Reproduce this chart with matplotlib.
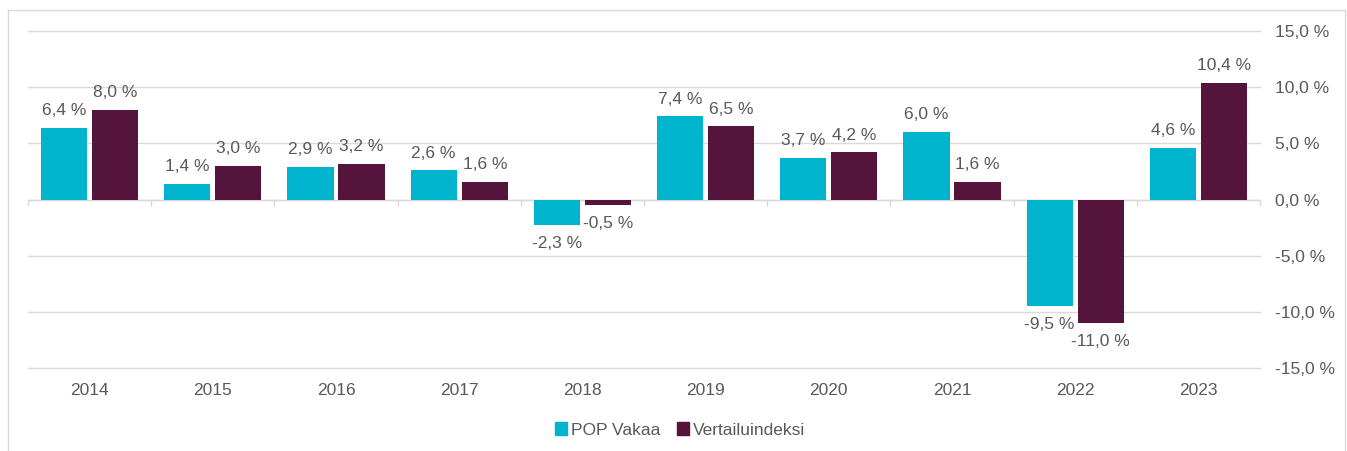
import numpy as np
import matplotlib.pyplot as plt
from matplotlib.lines import Line2D
from matplotlib.patches import Patch

# data ------------------------------------------------------------------

years = ['2014', '2015', '2016', '2017', '2018', '2019', '2020', '2021', '2022', '2023']
pop_vakaa = [6.4, 1.4, 2.9, 2.6, -2.3, 7.4, 3.7, 6.0, -9.5, 4.6]
vertailuindeksi = [8.0, 3.0, 3.2, 1.6, -0.5, 6.5, 4.2, 1.6, -11.0, 10.4]
series_names = ['POP Vakaa', 'Vertailuindeksi']
yticks = [15, 10, 5, 0, -5, -10, -15]

CYAN = '#00B4CD'
PURPLE = '#55143B'
TEXT = '#595959'
GRID = '#D9D9D9'
FS = 12.5


def fmt(v):
    return '{:.1f} %'.format(v).replace('.', ',')


# plot ------------------------------------------------------------------

plt.rcParams['font.family'] = ['Liberation Sans', 'DejaVu Sans']

fig = plt.figure(figsize=(13.47, 4.51), dpi=100)
ax = fig.add_axes([28 / 1347, 1 - 368 / 451, (1260 - 28) / 1347, (368 - 31) / 451])

x = np.arange(len(years))
w = 0.375
gap = 0.04
b1 = ax.bar(x - w / 2 - gap / 2, pop_vakaa, w, color=CYAN, zorder=3)
b2 = ax.bar(x + w / 2 + gap / 2, vertailuindeksi, w, color=PURPLE, zorder=3)

# value labels outside the bar ends
for bars, vals in ((b1, pop_vakaa), (b2, vertailuindeksi)):
    for bar, v in zip(bars, vals):
        cx = bar.get_x() + bar.get_width() / 2
        off = 7 if v >= 0 else -8
        ax.annotate(fmt(v), (cx, v), xytext=(0, off), textcoords='offset points',
                    ha='center', va='bottom' if v >= 0 else 'top',
                    fontsize=FS, color=TEXT)

ax.set_xlim(-0.5, len(years) - 0.5)
ax.set_ylim(-15, 15)
ax.set_yticks(yticks)
ax.set_yticklabels([fmt(t) for t in yticks])
ax.yaxis.tick_right()
ax.tick_params(axis='y', length=0, pad=11, labelsize=FS, labelcolor=TEXT)
for t in yticks:
    ax.axhline(t, color=GRID, linewidth=1, zorder=0, clip_on=False)

# zero line with ticks between categories
ax.axhline(0, color=GRID, linewidth=1, zorder=2)
for i in range(len(years) + 1):
    ax.plot([i - 0.5, i - 0.5], [0, -0.5], color=GRID, linewidth=1, zorder=2,
            clip_on=False)

# year labels below the lowest gridline
ax.set_xticks([])
for i, yr in enumerate(years):
    ax.text(i, -16.3, yr, ha='center', va='top', fontsize=FS, color=TEXT,
            clip_on=False)

for s in ax.spines.values():
    s.set_visible(False)

handles = [Patch(color=CYAN), Patch(color=PURPLE)]
fig.legend(handles, series_names, loc='center', bbox_to_anchor=(680 / 1347, 1 - 430 / 451),
           ncol=2, frameon=False, fontsize=FS, labelcolor=TEXT,
           handlelength=0.7, handleheight=0.7, handletextpad=0.2, columnspacing=1.0)

# outer frame
fr = dict(color=GRID, linewidth=1, transform=fig.transFigure)
fig.add_artist(Line2D([8 / 1347, 1345 / 1347], [1 - 10 / 451, 1 - 10 / 451], **fr))
fig.add_artist(Line2D([8 / 1347, 8 / 1347], [0, 1 - 10 / 451], **fr))
fig.add_artist(Line2D([1345 / 1347, 1345 / 1347], [0, 1 - 10 / 451], **fr))

fig.savefig('out.png', dpi=100)
